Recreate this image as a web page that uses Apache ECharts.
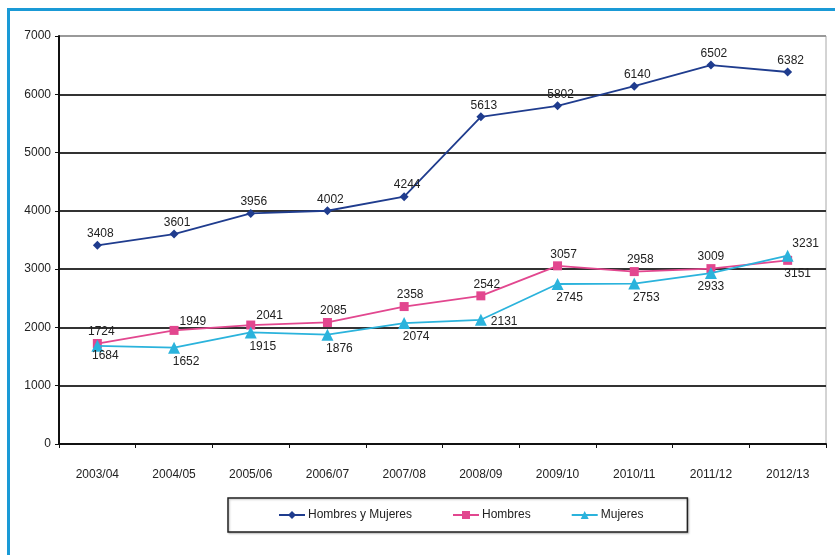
<!DOCTYPE html>
<html>
<head>
<meta charset="utf-8">
<script src="https://cdn.jsdelivr.net/npm/echarts@6/dist/echarts.min.js"></script>
<style>
html,body{margin:0;padding:0;background:#fff;}
#chart{width:835px;height:555px;}
</style>
</head>
<body>
<div id="chart"></div>
<script>
var categories = ['2003/04','2004/05','2005/06','2006/07','2007/08','2008/09','2009/10','2010/11','2011/12','2012/13'];
var totalValues = [3408, 3601, 3956, 4002, 4244, 5613, 5802, 6140, 6502, 6382];
var hombresValues = [1724, 1949, 2041, 2085, 2358, 2542, 3057, 2958, 3009, 3151];
var mujeresValues = [1684, 1652, 1915, 1876, 2074, 2131, 2745, 2753, 2933, 3231];
var seriesNames = ['Hombres y Mujeres', 'Hombres', 'Mujeres'];
var yTicks = [0, 1000, 2000, 3000, 4000, 5000, 6000, 7000];

var FONT = '"Liberation Sans Narrow", "Arial Narrow", "Liberation Sans", Arial, sans-serif';
var FS = 12;

function withOverrides(values, overrides) {
  return values.map(function (v, i) {
    if (overrides[i]) return { value: v, label: overrides[i] };
    return v;
  });
}

var hombresData = withOverrides(hombresValues, {
  0: { position: 'top', offset: [4, 0] },
  1: { position: 'right', offset: [0, -9] },
  2: { position: 'right', offset: [0, -9] },
  8: { position: 'top', offset: [0, 0] },
  9: { position: 'bottom', offset: [10, 2] }
});
var mujeresData = withOverrides(mujeresValues, {
  0: { position: 'bottom', offset: [8, -4] },
  5: { position: 'right', offset: [2, 2] },
  8: { position: 'bottom', offset: [0, 0] },
  9: { position: 'top', offset: [18, 2] }
});

var chart = echarts.init(document.getElementById('chart'), null, { renderer: 'canvas' });
chart.setOption({
  backgroundColor: '#ffffff',
  animation: false,
  textStyle: { fontFamily: FONT },
  graphic: [
    { type: 'rect', left: 7, top: 8, shape: { width: 3, height: 547 }, style: { fill: '#1a9ad6' }, z: 100 },
    { type: 'rect', left: 7, top: 8, shape: { width: 828, height: 3 }, style: { fill: '#1a9ad6' }, z: 100 }
  ],
  grid: {
    left: 59, right: 9, top: 36, bottom: 111,
    show: true, borderColor: '#a8a8a8', borderWidth: 1, backgroundColor: 'transparent'
  },
  legend: {
    data: seriesNames,
    left: 228, top: 498,
    padding: [11, 44, 11, 50],
    itemGap: 40,
    itemWidth: 26,
    itemHeight: 10,
    borderColor: '#222',
    borderWidth: 1.5,
    shadowColor: 'rgba(0,0,0,0.25)',
    shadowBlur: 2,
    shadowOffsetX: 1,
    shadowOffsetY: 1,
    backgroundColor: '#fff',
    textStyle: { fontFamily: FONT, fontSize: FS, color: '#222', padding: [0, 0, 0, -2] }
  },
  xAxis: {
    type: 'category',
    data: categories,
    boundaryGap: true,
    axisLine: { lineStyle: { color: '#111', width: 2 } },
    axisTick: { show: true, length: 4, lineStyle: { color: '#111' } },
    axisLabel: { fontFamily: FONT, fontSize: FS, color: '#222', margin: 25 },
    splitLine: { show: false }
  },
  yAxis: {
    type: 'value',
    min: yTicks[0], max: yTicks[yTicks.length - 1], interval: 1000,
    axisLine: { show: true, lineStyle: { color: '#111', width: 2 } },
    axisTick: { show: true, length: 4, lineStyle: { color: '#111' } },
    axisLabel: { fontFamily: FONT, fontSize: FS, color: '#222', margin: 8, formatter: function (v) { return String(v); } },
    splitLine: { show: true, lineStyle: { color: ['#333','#333','#333','#333','#333','#333','#333','#999'], width: 2 } }
  },
  series: [
    {
      name: seriesNames[0], type: 'line', data: totalValues,
      symbol: 'diamond', symbolSize: 9,
      lineStyle: { color: '#1f3c8e', width: 1.8 },
      itemStyle: { color: '#1f3c8e' },
      label: { show: true, position: 'top', distance: 1, offset: [3, 0], fontFamily: FONT, fontSize: FS, color: '#222' },
      z: 3
    },
    {
      name: seriesNames[1], type: 'line', data: hombresData,
      symbol: 'rect', symbolSize: 9,
      lineStyle: { color: '#e2478f', width: 1.8 },
      itemStyle: { color: '#e2478f' },
      label: { show: true, position: 'top', distance: 1, offset: [6, 0], fontFamily: FONT, fontSize: FS, color: '#222' },
      z: 4
    },
    {
      name: seriesNames[2], type: 'line', data: mujeresData,
      symbol: 'triangle', symbolSize: 12,
      lineStyle: { color: '#2bb3dc', width: 1.8 },
      itemStyle: { color: '#2bb3dc' },
      label: { show: true, position: 'bottom', distance: 2, offset: [12, 0], fontFamily: FONT, fontSize: FS, color: '#222' },
      z: 5
    }
  ]
});
</script>
</body>
</html>
